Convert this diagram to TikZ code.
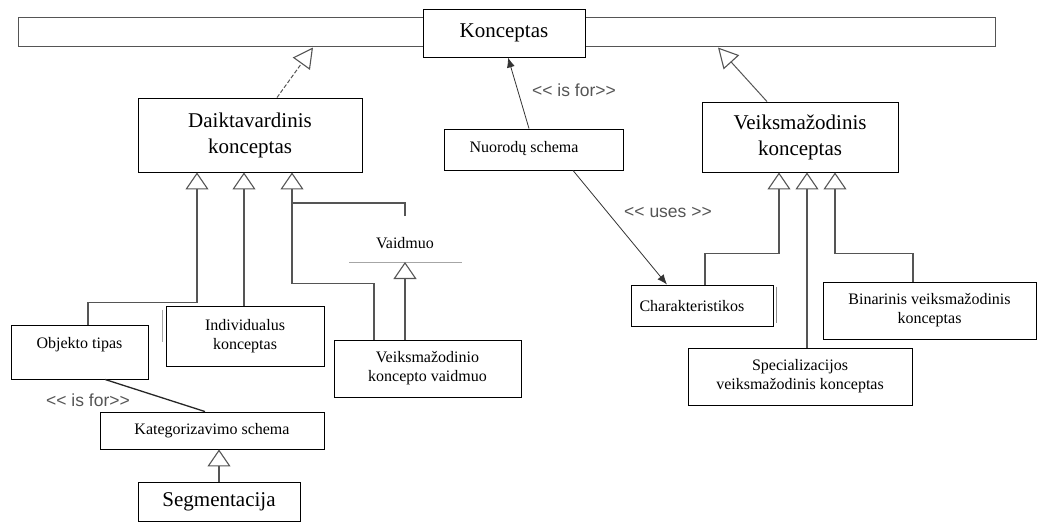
\documentclass[tikz,border=0pt]{standalone}
\usepackage{fontspec}
\setmainfont{Liberation Serif}
\newfontfamily\lblfont{Liberation Sans}[Ligatures=TeXOff]
\usetikzlibrary{arrows.meta}
\definecolor{linegray}{HTML}{555555}
\definecolor{lblgray}{HTML}{555555}
\tikzset{
  box/.style={draw=black, line width=0.9pt, fill=white, inner sep=2pt, align=center},
  bigtxt/.style={font=\fontsize{21}{26}\selectfont},
  smalltxt/.style={font=\fontsize{16}{19}\selectfont},
  lbl/.style={font=\lblfont\fontsize{17.5}{20}\selectfont, text=lblgray, inner sep=0pt},
  gen/.style={draw=linegray, line width=1.5pt,
    -{Triangle[open, length=17pt, width=23pt, line width=1.1pt]}},
  topgen/.style={draw=linegray, line width=1pt,
    -{Triangle[open, length=20pt, width=21pt, line width=1.1pt]}},
  conn/.style={draw=linegray, line width=1.5pt},
  assoc/.style={draw=black!80, line width=0.8pt, -{Latex[length=10pt, width=8pt]}},
}
\begin{document}
\begin{tikzpicture}[x=1pt, y=-1pt]
\useasboundingbox (0,0) rectangle (1039,527);

% top-level concept bar and its title box
\node[draw=linegray, line width=1pt, minimum width=977pt, minimum height=29pt, inner sep=0pt] (bar) at (506.5,32.5) {};
\node[box, bigtxt, minimum width=162pt, minimum height=48pt] (konz) at (504,33) {Konceptas};

% second level
\node[box, bigtxt, minimum width=224pt, minimum height=74pt] (daikt) at (250,135) {Daiktavardinis\\konceptas};
\node[box, bigtxt, minimum width=196pt, minimum height=70pt] (veiks) at (800,137) {Veiksmažodinis\\konceptas};
\node[box, minimum width=179pt, minimum height=41pt] (nuor) at (533.5,149.5) {};
\node[smalltxt, inner sep=0pt] (nuortxt) at (524,149) {Nuorodų schema};

% noun concept children
\node[box, minimum width=137pt, minimum height=54pt] (objekto) at (79.5,352) {};
\node[smalltxt, inner sep=0pt] (objtxt) at (79.5,345) {Objekto tipas};
\node[box, smalltxt, minimum width=158pt, minimum height=60pt] (indiv) at (245,336) {Individualus\\konceptas};
\node[box, smalltxt, minimum width=187pt, minimum height=57pt] (vkv) at (427.5,368.5) {Veiksmažodinio\\koncepto vaidmuo};
\node[smalltxt, inner sep=0pt] (vaid) at (405,243) {Vaidmuo};
\coordinate (vaidline) at (405,262);
\node[box, smalltxt, minimum width=224pt, minimum height=37pt] (kateg) at (212,430.5) {Kategorizavimo schema};
\node[box, bigtxt, minimum width=162pt, minimum height=39pt] (segm) at (219,501.5) {Segmentacija};

% verb concept children
\node[box, minimum width=142pt, minimum height=41pt] (charak) at (702,305.5) {};
\node[smalltxt, inner sep=0pt] (chartxt) at (692,306) {Charakteristikos};
\node[box, smalltxt, minimum width=224pt, minimum height=57pt] (spec) at (800,376.5) {Specializacijos\\veiksmažodinis konceptas};
\node[box, smalltxt, minimum width=213pt, minimum height=57pt] (binar) at (929.5,310.5) {Binarinis veiksmažodinis\\konceptas};

% small shadow edges
\draw[black!45, line width=1pt] ([xshift=3pt, yshift=-2pt]charak.north east) -- ([xshift=3pt, yshift=3pt]charak.south east);
\draw[black!35, line width=1pt] ([xshift=-3pt, yshift=-4pt]indiv.north west) -- ([xshift=-3pt, yshift=24pt]indiv.south west);

% separator under Vaidmuo
\draw[black!35, line width=0.8pt] ([xshift=-56pt]vaidline) -- ([xshift=57pt]vaidline);

% generalisations to the top bar
\draw[topgen, dash pattern=on 4pt off 2pt] ([xshift=27pt]daikt.north) -- ([xshift=-193.5pt]bar.south);
\draw[topgen] ([xshift=-33pt]veiks.north) -- ([xshift=211.5pt]bar.south);

% associations
\draw[assoc] ([xshift=-4.5pt]nuor.north) -- ([xshift=4pt]konz.south);
\node[lbl] (isfor1) at (574,90) {<< is for>>};
\draw[assoc] ([xshift=39.5pt]nuor.south) -- ([xshift=-35pt]charak.north);
\node[lbl] (uses) at (668,212) {<< uses >>};
\draw[draw=black!85, line width=1.3pt] ([xshift=25.5pt]objekto.south) -- ([xshift=-7pt]kateg.north);
\node[lbl] (isfor2) at (88,400) {<< is for>>};

% noun concept specialisations
\draw[gen] ([xshift=8.5pt]objekto.north) -- ++(0,-22) -| ([xshift=-53pt]daikt.south);
\draw[gen] ([xshift=-1pt]indiv.north) -- ([xshift=-6pt]daikt.south);
\draw[gen] ([xshift=-53.5pt]vkv.north) -- ++(0,-56) -| ([xshift=42pt]daikt.south);
\draw[conn] ([yshift=21pt]vaid.north) -- ++(0,-13) -| ([xshift=42pt, yshift=-37pt]daikt.south);
\draw[gen] ([xshift=-22.5pt]vkv.north) -- (vaidline);
\draw[gen] (segm.north) -- (segm.north |- kateg.south);

% verb concept specialisations
\draw[gen] ([xshift=3pt]charak.north) -- ++(0,-31) -| ([xshift=-21pt]veiks.south);
\draw[gen] ([xshift=7pt]spec.north) -- ([xshift=7pt]veiks.south);
\draw[gen] ([xshift=-16.5pt]binar.north) -- ++(0,-28) -| ([xshift=35pt]veiks.south);
\end{tikzpicture}
\end{document}
